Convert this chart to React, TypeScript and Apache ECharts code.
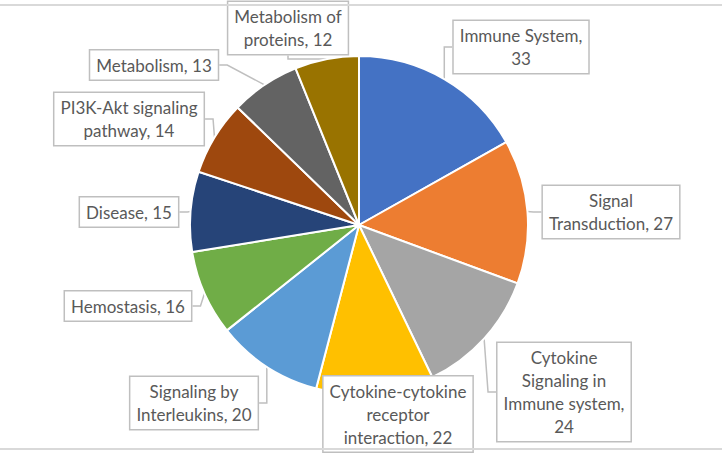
import React, { useEffect, useRef } from "react";
import * as echarts from "echarts";

const categories = [
  "Immune System",
  "Signal Transduction",
  "Cytokine Signaling in Immune system",
  "Cytokine-cytokine receptor interaction",
  "Signaling by Interleukins",
  "Hemostasis",
  "Disease",
  "PI3K-Akt signaling pathway",
  "Metabolism",
  "Metabolism of proteins",
];
const values = [33, 27, 24, 22, 20, 16, 15, 14, 13, 12];
const labelTexts = [
  "Immune System,\n33",
  "Signal\nTransduction, 27",
  "Cytokine\nSignaling in\nImmune system,\n24",
  "Cytokine-cytokine\nreceptor\ninteraction, 22",
  "Signaling by\nInterleukins, 20",
  "Hemostasis, 16",
  "Disease, 15",
  "PI3K-Akt signaling\npathway, 14",
  "Metabolism, 13",
  "Metabolism of\nproteins, 12",
];
const colors = [
  "#4472C4",
  "#ED7D31",
  "#A5A5A5",
  "#FFC000",
  "#5B9BD5",
  "#70AD47",
  "#264478",
  "#9E480E",
  "#636363",
  "#997300",
];
// label box centres (layout)
const labelCenters: [number, number][] = [
  [521, 47],
  [611, 212],
  [564, 392],
  [398, 414],
  [194, 403],
  [128, 306],
  [129, 212],
  [129, 119],
  [154, 65],
  [288, 28],
];

export default function App() {
  const ref = useRef<HTMLDivElement>(null);
  useEffect(() => {
    if (!ref.current) return;
    const chart = echarts.init(ref.current, null, { renderer: "svg" });
    chart.setOption({
      animation: false,
      backgroundColor: "#ffffff",
      color: colors,
      graphic: [
        {
          type: "line",
          shape: { x1: 0, y1: 5, x2: 722, y2: 5 },
          style: { stroke: "#d9d9d9", lineWidth: 2 },
          z: 100,
        },
        {
          type: "line",
          shape: { x1: 0, y1: 449, x2: 722, y2: 449 },
          style: { stroke: "#d9d9d9", lineWidth: 2 },
          z: 100,
        },
      ],
      series: [
        {
          type: "pie",
          center: [359, 225],
          radius: 169,
          startAngle: 90,
          clockwise: true,
          itemStyle: { borderColor: "#ffffff", borderWidth: 2 },
          data: categories.map((name, i) => ({ name, value: values[i] })),
          label: {
            show: true,
            position: "outside",
            formatter: (p: any) => labelTexts[p.dataIndex],
            fontFamily: "Lato",
            fontSize: 17,
            lineHeight: 23,
            color: "#595959",
            align: "center",
            backgroundColor: "#ffffff",
            borderColor: "#bfbfbf",
            borderWidth: 1.5,
            padding: [3, 6],
          },
          labelLine: {
            show: true,
            length: 8,
            length2: 8,
            lineStyle: { color: "#bfbfbf", width: 1.5 },
          },
          labelLayout: (params: any) => {
            const c = labelCenters[params.dataIndex];
            return {
              x: c[0],
              y: c[1],
              align: "center",
              verticalAlign: "middle",
            };
          },
        },
      ],
    });
    return () => chart.dispose();
  }, []);
  return (
    <div
      ref={ref}
      style={{ position: "fixed", left: 0, top: 0, width: 722, height: 455 }}
    />
  );
}
